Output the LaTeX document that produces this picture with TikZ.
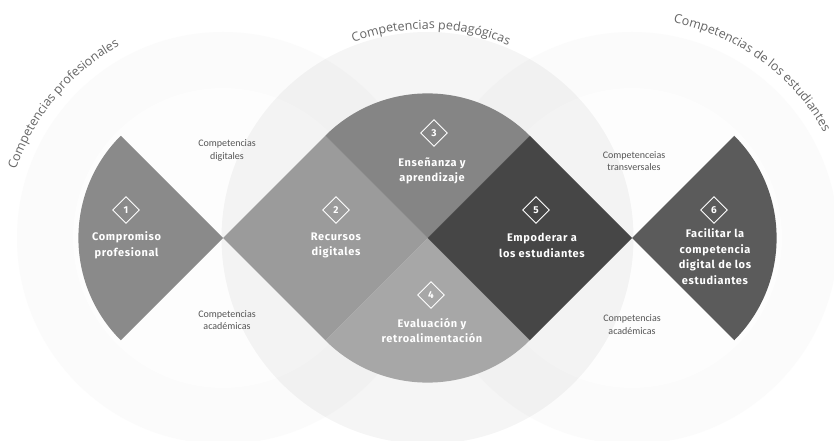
\documentclass[tikz,border=0pt]{standalone}
\usepackage{fontspec}
\usetikzlibrary{shapes.geometric,decorations.text}
\setmainfont{Open Sans}
\newfontfamily\boldlab{Fira Sans}[LetterSpace=6]
\newfontfamily\smallfont{Carlito}
\newfontfamily\titlefont{Open Sans}
\definecolor{cOne}{HTML}{8A8A8A}
\definecolor{cTwo}{HTML}{9B9B9B}
\definecolor{cThree}{HTML}{858585}
\definecolor{cFour}{HTML}{A7A7A7}
\definecolor{cFive}{HTML}{464646}
\definecolor{cSix}{HTML}{5B5B5B}
\definecolor{ringfill}{HTML}{FBFBFB}
\definecolor{innerfill}{HTML}{FDFDFD}
\definecolor{smallgrey}{HTML}{555555}
\definecolor{titlegrey}{HTML}{666666}
\tikzset{
  shapelabel/.style={font=\boldlab\bfseries\fontsize{11}{15.5}\selectfont, text=white, align=center, inner sep=0pt},
  badge/.style={diamond, draw=white, line width=0.9pt, minimum width=27pt, minimum height=27pt, aspect=1, inner sep=0pt, text=white, font=\boldlab\bfseries\fontsize{10}{12}\selectfont},
  smalllab/.style={font=\smallfont\fontsize{10}{12.5}\selectfont, text=smallgrey, align=center, inner sep=0pt},
}
\begin{document}
\begin{tikzpicture}[x=1pt,y=1pt]
\useasboundingbox (0,0) rectangle (834,440);
\clip (0,0) rectangle (834,440);
\fill[white] (0,0) rectangle (834,440);
% centres
\coordinate (A) at (223,202);
\coordinate (M) at (427.5,202);
\coordinate (B) at (632,202);
% background circles
\fill[ringfill] (A) circle[radius=206];
\fill[ringfill] (B) circle[radius=206];
\fill[innerfill] (A) circle[radius=150];
\fill[innerfill] (B) circle[radius=150];
\fill[black, fill opacity=0.038] (M) circle[radius=206];
% shapes
\fill[cOne] (A) -- ++(135:144.6) arc[start angle=135,end angle=225,radius=144.6] -- cycle;
\fill[cTwo] (A) -- ++(45:144.6) -- (M) -- ++(225:144.6) -- cycle;
\fill[cThree] (M) -- ++(45:144.6) arc[start angle=45,end angle=135,radius=144.6] -- cycle;
\fill[cFour] (M) -- ++(225:144.6) arc[start angle=225,end angle=315,radius=144.6] -- cycle;
\fill[cFive] (M) -- ++(45:144.6) -- (B) -- ++(225:144.6) -- cycle;
\fill[cSix] (B) -- ++(-45:144.6) arc[start angle=-45,end angle=45,radius=144.6] -- cycle;
% badges
\node[badge] (n1) at (126,230) {1};
\node[badge] (n2) at (336,230) {2};
\node[badge] (n3) at (434,307) {3};
\node[badge] (n4) at (431,145) {4};
\node[badge] (n5) at (536,230) {5};
\node[badge] (n6) at (714,230) {6};
% labels
\node[shapelabel] (t1) at (126.5,194.5) {Compromiso\\profesional};
\node[shapelabel] (t2) at (336,194.5) {Recursos\\digitales};
\node[shapelabel] (t3) at (432,269) {Enseñanza y\\aprendizaje};
\node[shapelabel] (t4) at (432,109.5) {Evaluación y\\retroalimentación};
\node[shapelabel] (t5) at (542,194.5) {Empoderar a\\los estudiantes};
\node[shapelabel] (t6) at (715,183.5) {Facilitar la\\competencia\\digital de los\\estudiantes};
% small labels
\node[smalllab] (s1) at (227,289.5) {Competencias\\digitales};
\node[smalllab] (s2) at (227,120) {Competencias\\académicas};
\node[smalllab] (s3) at (634,279) {Competenceias\\transversales};
\node[smalllab] (s4) at (632,115.5) {Competencias\\académicas};
% curved titles
\path[decorate, decoration={text along path, text align=center,
  text={|\titlefont\fontsize{12.5}{14}\selectfont\color{titlegrey}|Competencias profesionales}}]
  ([shift={(165:218)}]A) arc[start angle=165,end angle=115,radius=218];
\path[decorate, decoration={text along path, text align=center,
  text={|\titlefont\fontsize{12.5}{14}\selectfont\color{titlegrey}|Competencias pedagógicas}}]
  ([shift={(118:209)}]M) arc[start angle=118,end angle=60,radius=209];
\path[decorate, decoration={text along path, text align=center,
  text={|\titlefont\fontsize{12.5}{14}\selectfont\color{titlegrey}|Competencias de los estudiantes}}]
  ([shift={(82:219)}]B) arc[start angle=82,end angle=26,radius=219];
\end{tikzpicture}
\end{document}
